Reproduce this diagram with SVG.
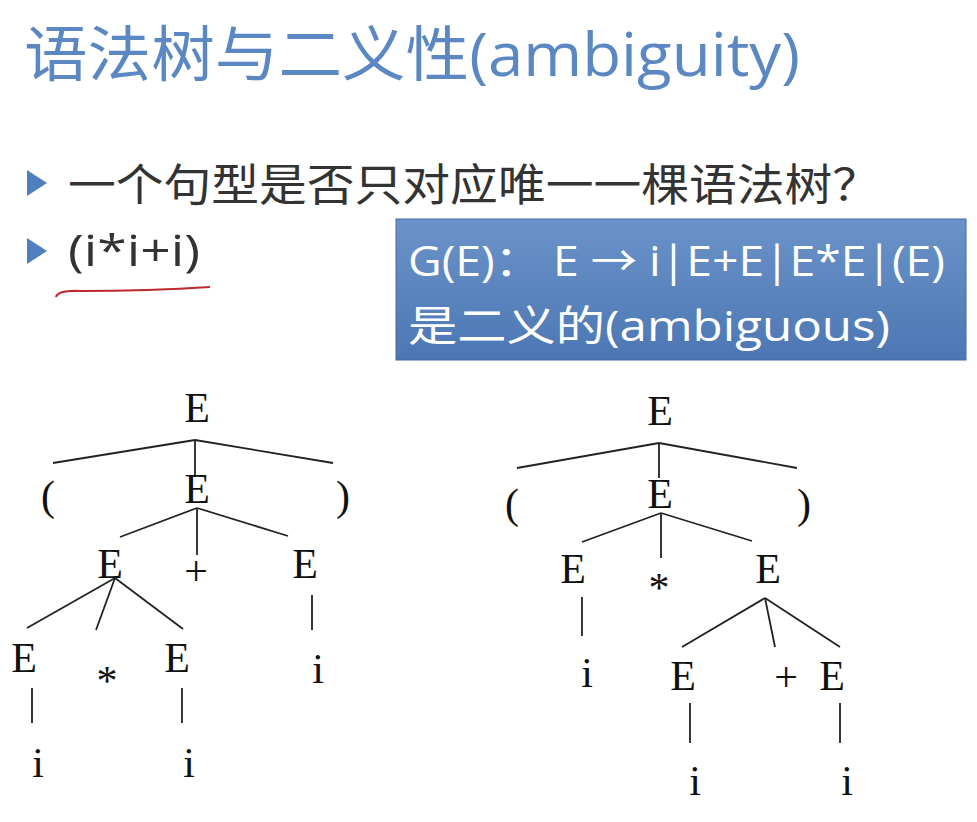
<svg xmlns="http://www.w3.org/2000/svg" width="977" height="822" viewBox="0 0 977 822">
<defs>
<linearGradient id="bg" x1="0" y1="0" x2="0" y2="1"><stop offset="0" stop-color="#6b93c9"/><stop offset="1" stop-color="#4c77b3"/></linearGradient>
</defs>
<style>
.t{font-family:"Liberation Serif",serif;font-size:42px;fill:#111;text-anchor:middle}
.s{font-family:"Open Sans","Noto Sans CJK SC",sans-serif}
line{stroke:#222;stroke-width:1.8}
</style>
<rect width="977" height="822" fill="#fff"/>
<text x="24" y="76" class="s" font-size="60" fill="#5b87c2" textLength="776" lengthAdjust="spacingAndGlyphs">语法树与二义性(ambiguity)</text>
<polygon points="27,170 47,183 27,196" fill="#4f7fbf"/>
<polygon points="27,238 47,251 27,264" fill="#4f7fbf"/>
<text x="68" y="201" class="s" font-size="44" fill="#333" textLength="812" lengthAdjust="spacingAndGlyphs">一个句型是否只对应唯一一棵语法树？</text>
<text x="68" y="266" class="s" font-size="44" fill="#333" textLength="132" lengthAdjust="spacingAndGlyphs">(i*i+i)</text>
<path d="M56,297 Q58,290 80,291 Q150,291 210,287" fill="none" stroke="#c0282e" stroke-width="2.2"/>
<g id="box"><rect x="396" y="219" width="570" height="141" fill="url(#bg)" stroke="#3f6aa3"/>
<text x="408" y="276" class="s" font-size="42" fill="#fff" textLength="537" lengthAdjust="spacingAndGlyphs">G(E)： E → i|E+E|E*E|(E)</text>
<text x="408" y="341" class="s" font-size="42" fill="#fff" textLength="482" lengthAdjust="spacingAndGlyphs">是二义的(ambiguous)</text></g>
<g id="connectors">
<line x1="195" y1="440" x2="53" y2="463"/><line x1="195" y1="440" x2="333" y2="463"/><line x1="195" y1="440" x2="195" y2="477"/>
<line x1="197" y1="508" x2="120" y2="537"/><line x1="197" y1="508" x2="197" y2="555"/><line x1="197" y1="508" x2="288" y2="536"/>
<line x1="115" y1="578" x2="27" y2="628"/><line x1="115" y1="578" x2="96" y2="630"/><line x1="115" y1="578" x2="183" y2="629"/>
<line x1="32" y1="688" x2="32" y2="723"/><line x1="182" y1="688" x2="182" y2="723"/><line x1="312" y1="595" x2="312" y2="630"/>
<line x1="659" y1="443" x2="517" y2="468"/><line x1="659" y1="443" x2="797" y2="468"/><line x1="659" y1="443" x2="659" y2="478"/>
<line x1="661" y1="513" x2="582" y2="542"/><line x1="661" y1="513" x2="661" y2="558"/><line x1="661" y1="513" x2="752" y2="541"/>
<line x1="582" y1="597" x2="582" y2="636"/>
<line x1="765" y1="598" x2="682" y2="647"/><line x1="765" y1="598" x2="775" y2="647"/><line x1="765" y1="598" x2="840" y2="647"/>
<line x1="690" y1="703" x2="690" y2="743"/><line x1="840" y1="703" x2="840" y2="743"/>
</g>
<g id="tree1">
<text class="t" x="197" y="422">E</text>
<text class="t" x="48" y="510">(</text><text class="t" x="197" y="503">E</text><text class="t" x="343" y="510">)</text>
<text class="t" x="110" y="578">E</text><text class="t" x="196" y="585" font-size="30">+</text><text class="t" x="305" y="578">E</text>
<text class="t" x="24" y="672">E</text><text class="t" x="107" y="695" font-size="54">*</text><text class="t" x="177" y="672">E</text><text class="t" x="318" y="683">i</text>
<text class="t" x="38" y="777">i</text><text class="t" x="189" y="777">i</text>
</g>
<g id="tree2">
<text class="t" x="660" y="425">E</text>
<text class="t" x="512" y="518">(</text><text class="t" x="660" y="508">E</text><text class="t" x="804" y="518">)</text>
<text class="t" x="573" y="583">E</text><text class="t" x="659" y="602" font-size="54">*</text><text class="t" x="768" y="583">E</text>
<text class="t" x="587" y="687">i</text>
<text class="t" x="683" y="690">E</text><text class="t" x="786" y="691" font-size="30">+</text><text class="t" x="832" y="690">E</text>
<text class="t" x="695" y="795">i</text><text class="t" x="847" y="795">i</text>
</g>
</svg>
